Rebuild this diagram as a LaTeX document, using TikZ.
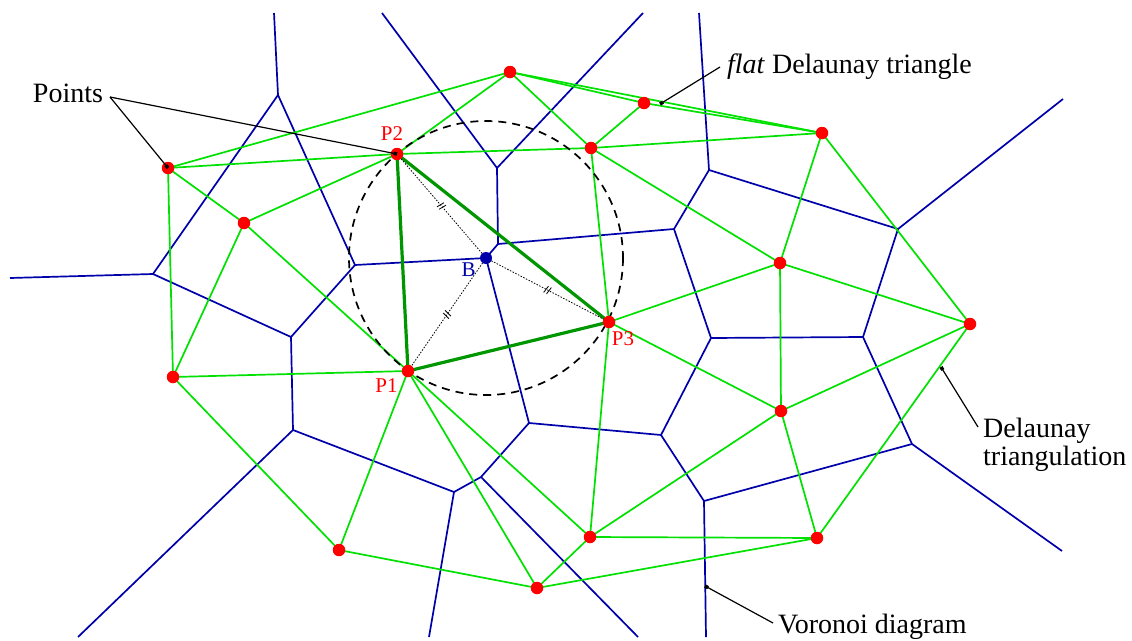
\documentclass[tikz,border=0pt]{standalone}
\usepackage{fontspec}
\setmainfont{Liberation Serif}
\usetikzlibrary{calc,arrows.meta}
\definecolor{vblue}{RGB}{0,0,170}
\definecolor{dgreen}{RGB}{0,225,0}
\definecolor{tgreen}{RGB}{0,150,0}
\begin{document}
\begin{tikzpicture}[x=1pt,y=-1pt,
 vor/.style={vblue,line width=1.7pt},
 del/.style={dgreen,line width=1.7pt},
 tri/.style={tgreen,line width=3.2pt},
 rad/.style={black,dash pattern=on 1.5pt off 1.5pt,line width=0.8pt},
 tick/.style={black,line width=0.8pt},
 circ/.style={black,dash pattern=on 8pt off 6pt,line width=1.7pt},
 pt/.style={circle,fill=red,inner sep=0pt,minimum size=12.5pt},
 ctr/.style={circle,fill=vblue,inner sep=0pt,minimum size=12pt},
 plabel/.style={font=\fontsize{21}{21}\selectfont,anchor=base,inner sep=0pt},
 ann/.style={font=\fontsize{28}{28}\selectfont,inner sep=0pt},
 pointer/.style={black,line width=1.2pt,-{Square[length=3.5pt,width=3.5pt]}}]
\useasboundingbox (0,0) rectangle (1132,640);
% Delaunay points
\coordinate (Pa) at (168,168);
\coordinate (Pb) at (244,223);
\coordinate (Pc) at (173,377);
\coordinate (P2) at (397,154);
\coordinate (P1) at (408,371);
\coordinate (P3) at (609,322);
\coordinate (Pt) at (510,72);
\coordinate (Fl) at (644,103);
\coordinate (Pd) at (591,148);
\coordinate (Pe) at (822,133);
\coordinate (Pf) at (780,263);
\coordinate (Pg) at (970,324);
\coordinate (Ph) at (781,411);
\coordinate (Pi) at (817,538);
\coordinate (Pj) at (590,537);
\coordinate (Pk) at (537,588);
\coordinate (Pl) at (339,550);
\coordinate (B) at (486,258);
% Voronoi vertices
\coordinate (V1) at (278,95);   \coordinate (E1) at (274,13);
\coordinate (V2) at (153,274);  \coordinate (E2) at (10,278);
\coordinate (V3) at (355,265);
\coordinate (V4) at (291,337);
\coordinate (V5) at (293,430);  \coordinate (E5) at (78,637);
\coordinate (V6) at (454,492);  \coordinate (E6) at (429,637);
\coordinate (V7) at (481,477);  \coordinate (E7) at (638,637);
\coordinate (V8) at (529,423);
\coordinate (V9) at (661,435);
\coordinate (V10) at (711,338);
\coordinate (V11) at (704,501); \coordinate (E11) at (706,637);
\coordinate (V12) at (863,337);
\coordinate (V13) at (674,229);
\coordinate (V14) at (498,244);
\coordinate (V15) at (497,168); \coordinate (E15a) at (382,13); \coordinate (E15b) at (643,13);
\coordinate (V16) at (709,170); \coordinate (E16) at (699,13);
\coordinate (V17) at (898,229); \coordinate (E17) at (1063,99);
\coordinate (V18) at (912,444); \coordinate (E18) at (1062,551);
% Voronoi diagram
\foreach \a/\b in {E1/V1,V1/V2,V1/V3,V2/E2,V2/V4,V3/V4,V3/B,V4/V5,V5/E5,V5/V6,V6/E6,V6/V7,V7/V8,V7/E7,V8/B,V8/V9,V9/V10,V9/V11,V10/V12,V10/V13,V13/V14,V14/B,V14/V15,V15/E15a,V15/E15b,V13/V16,V16/E16,V16/V17,V17/E17,V17/V12,V12/V18,V18/E18,V18/V11,V11/E11}
  \draw[vor] (\a) -- (\b);
% Delaunay triangulation
\foreach \a/\b in {Pa/Pt,Pa/P2,Pa/Pb,Pa/Pc,Pb/P2,Pb/Pc,Pb/P1,Pc/P1,Pc/Pl,Pt/P2,Pt/Pd,Pt/Fl,Pt/Pe,Fl/Pe,Fl/Pd,P2/Pd,Pd/Pe,Pd/P3,Pd/Pf,P3/Pf,Pe/Pf,Pe/Pg,Pf/Pg,Pf/Ph,P3/Ph,P3/Pj,P1/Pj,P1/Pk,P1/Pl,Pl/Pk,Pk/Pj,Pk/Pi,Pj/Pi,Pj/Ph,Ph/Pi,Ph/Pg,Pg/Pi}
  \draw[del] (\a) -- (\b);
\draw[tri] (P1) -- (P2) -- (P3) -- cycle;
% circumcircle and radii
\draw[circ] (B) circle[radius=137];
\foreach \p in {P1,P2,P3} {
  \draw[rad] (B) -- (\p);
  \coordinate (m\p) at ($(B)!0.5!(\p)$);
  \coordinate (ta\p) at ($(m\p)!1.6pt!(\p)$);
  \coordinate (tb\p) at ($(m\p)!-1.6pt!(\p)$);
  \draw[tick] ($(ta\p)!4pt!80:(\p)$) -- ($(ta\p)!4pt!-100:(\p)$);
  \draw[tick] ($(tb\p)!4pt!80:(\p)$) -- ($(tb\p)!4pt!-100:(\p)$);
}
% points
\foreach \p in {Pa,Pb,Pc,P1,P2,P3,Pt,Fl,Pd,Pe,Pf,Pg,Ph,Pi,Pj,Pk,Pl}
  \node[pt] (d\p) at (\p) {};
\node[ctr] (dB) at (B) {};
% labels
\node[plabel,red] (lP2) at (392,140) {P2};
\node[plabel,red] (lP1) at (386.5,392) {P1};
\node[plabel,red] (lP3) at (623,345) {P3};
\node[plabel,vblue] (lB) at (468.5,276) {B};
% annotations
\node[ann,anchor=base] (lpts) at (68,102) {Points};
\coordinate (apts) at (110,97);
\draw[pointer] (apts) -- (Pa);
\draw[pointer] (apts) -- (P2);
\node[ann,anchor=base] (lflat) at (849.5,73) {\textit{flat} Delaunay triangle};
\coordinate (aflat0) at (720,67);
\coordinate (aflat1) at (660,104);
\draw[pointer] (aflat0) -- (aflat1);
\node[ann,anchor=base west,align=left] (ldt) at (983,465) {Delaunay\\triangulation};
\coordinate (adt0) at (978,427);
\coordinate (adt1) at (941,367);
\draw[pointer] (adt0) -- (adt1);
\node[ann,anchor=base west] (lvd) at (778,633) {Voronoi diagram};
\coordinate (avd0) at (773,623);
\coordinate (avd1) at (705,586);
\draw[pointer] (avd0) -- (avd1);
\end{tikzpicture}
\end{document}
